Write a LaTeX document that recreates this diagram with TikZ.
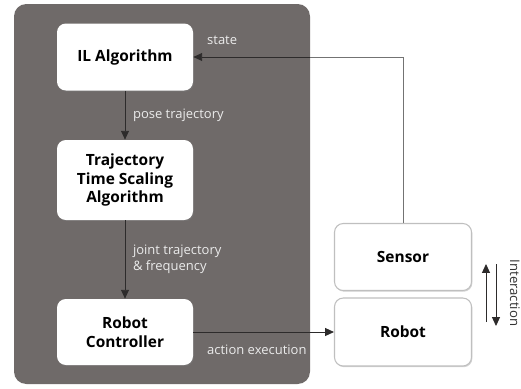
\documentclass[tikz,border=0pt]{standalone}
\usepackage{fontspec}
\setmainfont{Open Sans}
\usetikzlibrary{arrows.meta,shadows,positioning}
\definecolor{panelgray}{RGB}{111,106,105}
\definecolor{linegray}{RGB}{45,43,43}

\begin{document}
\begin{tikzpicture}[x=0.02cm,y=-0.02cm,
    block/.style={rectangle,rounded corners=5pt,fill=white,align=center,
      font=\fontsize{8.8}{10.5}\selectfont\bfseries,
      drop shadow={shadow xshift=0.5pt,shadow yshift=-0.7pt,opacity=0.35}},
    outblock/.style={block,draw=black!25,line width=0.6pt},
    lbl/.style={font=\fontsize{7.4}{9.2}\selectfont,text=white!92!black,align=left},
    flow/.style={draw=linegray,line width=0.5pt,-{Triangle[length=5pt,width=4.5pt]}}]
  \useasboundingbox (0,0) rectangle (521,389);

  % grey panel holding the software side
  \fill[panelgray,rounded corners=7pt] (14,4) rectangle (310,384);

  \node[block,minimum width=136*0.02cm,minimum height=67*0.02cm] (il) at (125,57) {IL Algorithm};
  \node[block,minimum width=136*0.02cm,minimum height=80*0.02cm] (tts) at (125,180)
    {Trajectory\\Time Scaling\\Algorithm};
  \node[block,minimum width=136*0.02cm,minimum height=66*0.02cm] (ctrl) at (125,332)
    {Robot\\Controller};

  \node[outblock,minimum width=137*0.02cm,minimum height=67*0.02cm] (sensor) at (403,257) {Sensor};
  \node[outblock,minimum width=137*0.02cm,minimum height=68*0.02cm] (robot) at (403,332) {Robot};

  % connectors
  \draw[flow] (il) -- node[lbl,right=1pt] {pose trajectory} (tts);
  \draw[flow] (tts) -- node[lbl,right=1pt] {joint trajectory\\\& frequency} (ctrl);
  \draw[flow] (ctrl) -- (robot);
  % state feedback: light outside the panel, dark inside
  \coordinate (edge) at (310,0 |- il.east);
  \draw[black!55,line width=0.5pt] (sensor.north) |- (edge);
  \draw[flow] (edge) -- (il.east);

  \node[lbl,anchor=west] (state) at (201,40) {state};
  \node[lbl,anchor=west] (act) at (201,350) {action execution};

  % interaction between robot and sensor
  \coordinate (up0) at (486,322);
  \coordinate (up1) at (486,264);
  \coordinate (dn0) at (496,264);
  \coordinate (dn1) at (496,326);
  \draw[flow] (up0) -- (up1);
  \draw[flow] (dn0) -- (dn1);
  \node[rotate=-90,font=\fontsize{7.5}{9}\selectfont,text=black!80] (inter) at (515,293) {Interaction};
\end{tikzpicture}
\end{document}
